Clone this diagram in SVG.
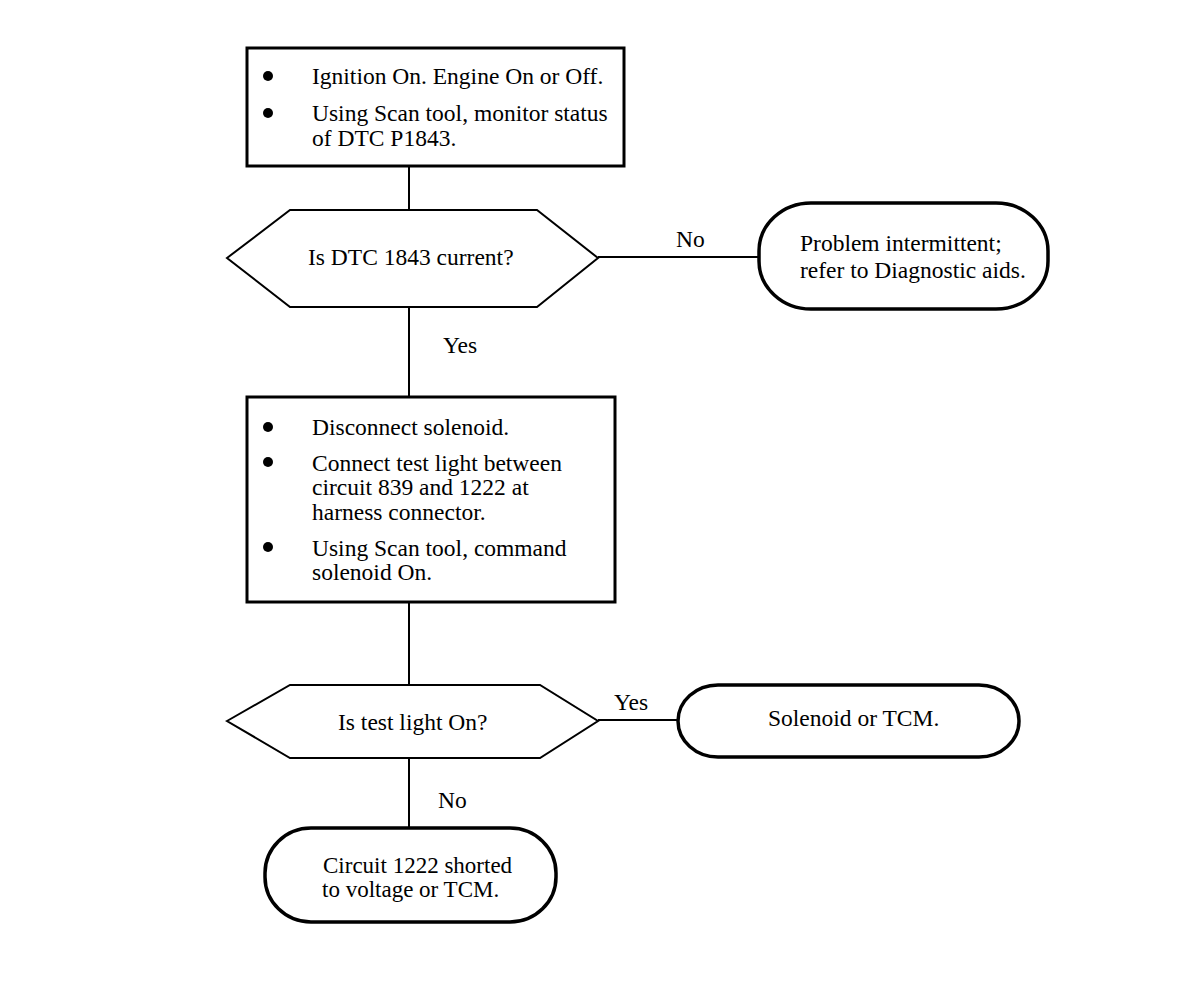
<svg xmlns="http://www.w3.org/2000/svg" width="1184" height="988" viewBox="0 0 1184 988">
<style>
text{font-family:"Liberation Serif","Times New Roman",serif;font-size:23.5px;fill:#000}
.box{fill:#fff;stroke:#000;stroke-width:3}
.hex{fill:#fff;stroke:#000;stroke-width:2}
.oval{fill:#fff;stroke:#000;stroke-width:3.5}
.conn{stroke:#000;stroke-width:2;fill:none}
</style>
<rect width="1184" height="988" fill="#fff"/>
<g id="connectors">
<line class="conn" x1="409" y1="166" x2="409" y2="210"/>
<line class="conn" x1="598" y1="257" x2="759" y2="257"/>
<line class="conn" x1="409" y1="307" x2="409" y2="397"/>
<line class="conn" x1="409" y1="602" x2="409" y2="685"/>
<line class="conn" x1="598" y1="720" x2="678" y2="720"/>
<line class="conn" x1="409" y1="758" x2="409" y2="828"/>
<text x="676" y="247">No</text>
<text x="443" y="353">Yes</text>
<text x="614" y="710">Yes</text>
<text x="438" y="808">No</text>
</g>
<g id="step1">
<rect class="box" x="247" y="48" width="377" height="118"/>
<circle cx="268" cy="76" r="5"/>
<circle cx="268" cy="113" r="5"/>
<text x="312" y="84">Ignition On. Engine On or Off.</text>
<text x="312" y="121">Using Scan tool, monitor status</text>
<text x="312" y="146">of DTC P1843.</text>
</g>
<g id="decision1">
<polygon class="hex" points="227,258 290,210 537,210 598,258 537,307 290,307"/>
<text x="308" y="265">Is DTC 1843 current?</text>
</g>
<g id="result1">
<rect class="oval" x="759" y="203" width="289" height="106" rx="52" ry="48"/>
<text x="800" y="251">Problem intermittent;</text>
<text x="800" y="278">refer to Diagnostic aids.</text>
</g>
<g id="step2">
<rect class="box" x="247" y="397" width="368" height="205"/>
<circle cx="268" cy="427" r="5"/>
<circle cx="268" cy="462" r="5"/>
<circle cx="268" cy="547" r="5"/>
<text x="312" y="435">Disconnect solenoid.</text>
<text x="312" y="471">Connect test light between</text>
<text x="312" y="495">circuit 839 and 1222 at</text>
<text x="312" y="520">harness connector.</text>
<text x="312" y="556">Using Scan tool, command</text>
<text x="312" y="580">solenoid On.</text>
</g>
<g id="decision2">
<polygon class="hex" points="227,721 290,685 540,685 598,721 540,758 290,758"/>
<text x="338" y="730">Is test light On?</text>
</g>
<g id="result2">
<rect class="oval" x="678" y="685" width="341" height="72" rx="40" ry="36"/>
<text x="768" y="726">Solenoid or TCM.</text>
</g>
<g id="result3">
<rect class="oval" x="265" y="828" width="291" height="94" rx="46" ry="45"/>
<text x="323" y="873" style="font-size:23px">Circuit 1222 shorted</text>
<text x="322" y="897" style="font-size:23px">to voltage or TCM.</text>
</g>
</svg>
